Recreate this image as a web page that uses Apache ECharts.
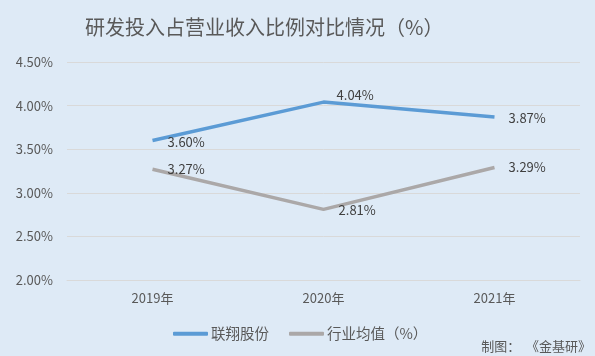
<!DOCTYPE html>
<html><head><meta charset="utf-8">
<script src="https://cdn.jsdelivr.net/npm/echarts@6/dist/echarts.min.js"></script>
<style>html,body{margin:0;padding:0;background:#DEEAF6;}#c{width:595px;height:356px;}</style>
</head><body><div id="c"></div>
<script>
const categories = ['2019年', '2020年', '2021年'];
const company = [3.60, 4.04, 3.87];
const industry = [3.27, 2.81, 3.29];
const companyName = '联翔股份';
const industryName = '行业均值（%）';

const font = "'Noto Sans CJK SC', 'Microsoft YaHei', sans-serif";
function mk(vals, offs) {
  return vals.map((v, i) => ({
    value: v,
    label: { position: 'right', offset: offs[i] }
  }));
}
const chart = echarts.init(document.getElementById('c'));
chart.setOption({
  backgroundColor: '#DEEAF6',
  animation: false,
  title: {
    text: '研发投入占营业收入比例对比情况（%）',
    left: 80, top: 12,
    textStyle: { fontFamily: font, fontSize: 20, fontWeight: 'normal', color: '#595959' }
  },
  legend: {
    bottom: 10, left: 168,
    itemWidth: 35, itemHeight: 4, itemGap: 20,
    icon: 'roundRect',
    textStyle: { fontFamily: font, fontSize: 14.5, color: '#595959', padding: [0, 0, 0, -2] },
    data: [companyName, industryName]
  },
  graphic: [{
    type: 'text', right: 4, bottom: 3,
    style: { text: '制图：  《金基研》', font: '13px ' + font, fill: '#595959' }
  }],
  grid: { left: 67, right: 15, top: 62, bottom: 76 },
  xAxis: {
    type: 'category', data: categories, boundaryGap: true,
    axisLine: { lineStyle: { color: '#D9D9D9' } },
    axisTick: { show: false },
    axisLabel: { fontFamily: font, fontSize: 13, color: '#595959', margin: 12 }
  },
  yAxis: {
    type: 'value', min: 2.0, max: 4.5, interval: 0.5,
    axisLine: { show: false }, axisTick: { show: false },
    splitLine: { lineStyle: { color: '#D9D9D9' } },
    axisLabel: { fontFamily: font, fontSize: 13, color: '#595959', margin: 14,
      formatter: v => v.toFixed(2) + '%' }
  },
  series: [
    {
      name: companyName, type: 'line', data: mk(company, [[10, 2], [8, -7], [9, 1]]),
      symbol: 'circle', symbolSize: 0.1, showSymbol: true,
      lineStyle: { width: 3.5, color: '#5B9BD5' }, itemStyle: { color: '#5B9BD5' },
      label: { show: true, fontFamily: font, fontSize: 13, color: '#404040', formatter: p => p.value.toFixed(2) + '%' }
    },
    {
      name: industryName, type: 'line', data: mk(industry, [[10, 0], [10, 1], [9, 0]]),
      symbol: 'circle', symbolSize: 0.1, showSymbol: true,
      lineStyle: { width: 3.5, color: '#ABA8A8' }, itemStyle: { color: '#ABA8A8' },
      label: { show: true, fontFamily: font, fontSize: 13, color: '#404040', formatter: p => p.value.toFixed(2) + '%' }
    }
  ]
});
</script></body></html>
